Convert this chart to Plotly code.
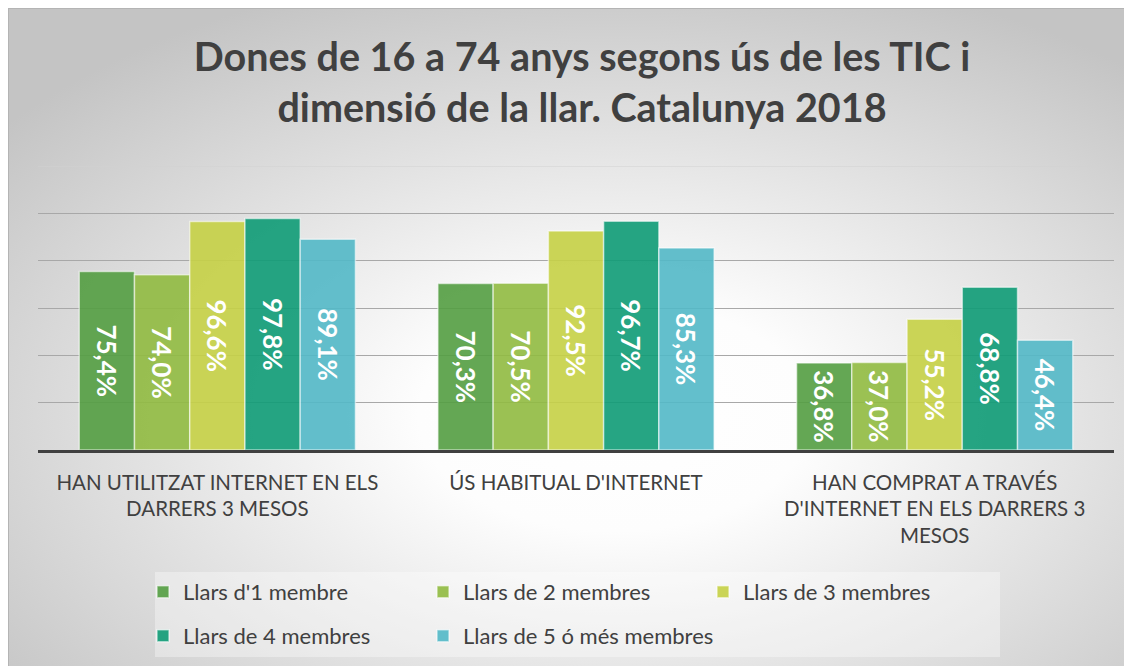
import plotly.graph_objects as go
import base64

categories = [
    "HAN UTILITZAT INTERNET EN ELS<br>DARRERS 3 MESOS",
    "ÚS HABITUAL D'INTERNET",
    "HAN COMPRAT A TRAVÉS<br>D'INTERNET EN ELS DARRERS 3<br>MESOS",
]
series_names = [
    "Llars d'1 membre",
    "Llars de 2 membres",
    "Llars de 3 membres",
    "Llars de 4 membres",
    "Llars de 5 ó més membres",
]
s1 = [75.4, 70.3, 36.8]
s2 = [74.0, 70.5, 37.0]
s3 = [96.6, 92.5, 55.2]
s4 = [97.8, 96.7, 68.8]
s5 = [89.1, 85.3, 46.4]
series_values = [s1, s2, s3, s4, s5]
colors = [
    "rgba(83,157,65,0.9)",
    "rgba(144,186,64,0.9)",
    "rgba(197,208,69,0.9)",
    "rgba(14,155,118,0.9)",
    "rgba(82,184,199,0.9)",
]
legend_ids = ["legend", "legend", "legend", "legend2", "legend3"]
y_max = 120
grid_vals = [20, 40, 60, 80, 100]

W, H = 1132, 666
ML, MR, MT, MB = 30, 26, 158, 224
PW, PH = W - ML - MR, H - MT - MB

def px_x(x):
    return (x - ML) / PW

def px_y(y):
    return (H - MB - y) / PH

def fmt(v):
    return f"{v:.1f}".replace(".", ",") + "%"

fig = go.Figure()
for name, vals, col, lg in zip(series_names, series_values, colors, legend_ids):
    fig.add_trace(go.Bar(
        x=categories, y=vals, name=name,
        marker=dict(color=col, line=dict(color="rgba(255,255,255,0.55)", width=1.5)),
        text=[fmt(v) for v in vals],
        textposition="inside", insidetextanchor="middle", textangle=90,
        textfont=dict(family="Lato", size=26, color="white", weight="bold"),
        constraintext="none",
        legend=lg,
        hoverinfo="skip",
    ))

# background radial gradient (chart frame)
svg = (
    "<svg xmlns='http://www.w3.org/2000/svg' width='1124' height='658' preserveAspectRatio='none'>"
    "<defs><radialGradient id='g' cx='0.54' cy='0.62' r='0.7'>"
    "<stop offset='0' stop-color='#ffffff'/>"
    "<stop offset='0.25' stop-color='#fdfdfd'/>"
    "<stop offset='1' stop-color='#c4c4c4'/>"
    "</radialGradient></defs>"
    "<rect x='0' y='0' width='1124' height='658' fill='url(#g)'/>"
    "</svg>"
)
src = "data:image/svg+xml;base64," + base64.b64encode(svg.encode()).decode()

legend_common = dict(
    orientation="h", xanchor="left", yanchor="top",
    entrywidth=235, entrywidthmode="pixels",
    font=dict(family="Lato", size=22, color="#404040"),
    bgcolor="rgba(0,0,0,0)", itemwidth=30, traceorder="normal",
)
legend_single = dict(legend_common)
legend_single.pop("entrywidth")
legend_single.pop("entrywidthmode")

fig.update_layout(
    width=W, height=H,
    paper_bgcolor="white",
    plot_bgcolor="rgba(0,0,0,0)",
    margin=dict(l=ML, r=MR, t=MT, b=MB, autoexpand=False),
    barmode="group", bargap=0.23, bargroupgap=0,
    font=dict(family="Lato", color="#404040"),
    title=dict(
        text="Dones de 16 a 74 anys segons ús de les TIC i<br>dimensió de la llar. Catalunya 2018",
        x=574 / W, xanchor="center", xref="container",
        y=1 - 63 / H, yanchor="top", yref="container",
        font=dict(family="Lato", size=39.5, color="#404040", weight="bold"),
    ),
    xaxis=dict(
        showline=True, linecolor="#404040", linewidth=3,
        showgrid=False, ticks="", ticklabelstandoff=12,
        tickfont=dict(family="Lato", size=20.5, color="#404040"),
        fixedrange=True,
    ),
    yaxis=dict(
        range=[0, y_max], tickvals=grid_vals, showticklabels=False,
        showgrid=True, gridcolor="#a8a8a8", gridwidth=1,
        zeroline=False, showline=False, fixedrange=True,
    ),
    images=[dict(
        source=src, xref="paper", yref="paper",
        x=px_x(0), y=px_y(0),
        sizex=1124 / PW, sizey=658 / PH,
        xanchor="left", yanchor="top", sizing="stretch", layer="below",
    )],
    shapes=[
        dict(type="rect", xref="paper", yref="paper",
             x0=px_x(147), x1=px_x(992), y0=px_y(649), y1=px_y(564),
             fillcolor="rgba(255,255,255,0.35)", line=dict(width=0), layer="below"),
        dict(type="line", xref="paper", yref="y", x0=0, x1=1, y0=y_max, y1=y_max,
             line=dict(color="#d2d2d2", width=1), layer="below"),
        dict(type="line", xref="paper", yref="paper",
             x0=px_x(0), x1=px_x(W), y0=px_y(0), y1=px_y(0),
             line=dict(color="#b4b4b4", width=2), layer="below"),
        dict(type="line", xref="paper", yref="paper",
             x0=px_x(0), x1=px_x(0), y0=px_y(H), y1=px_y(0),
             line=dict(color="#b4b4b4", width=2), layer="below"),
    ],
    legend=dict(x=px_x(135), y=px_y(563), **legend_common),
    legend2=dict(x=px_x(135), y=px_y(607), **legend_common),
    legend3=dict(x=px_x(415), y=px_y(607), **legend_single),
)

fig.write_html("out.html")
